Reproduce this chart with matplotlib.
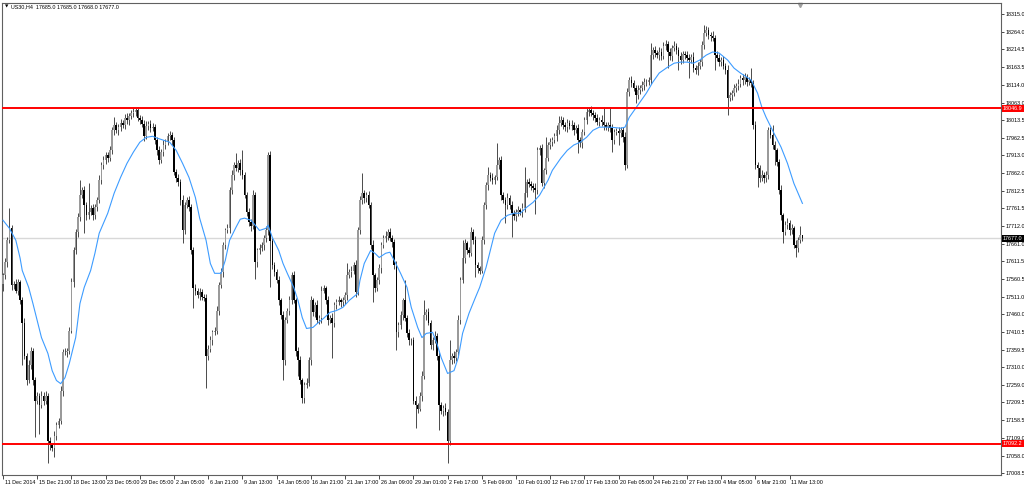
import matplotlib
matplotlib.use('Agg')
import matplotlib.pyplot as plt
import matplotlib.transforms as mtransforms

plt.rcParams['font.family'] = ['Liberation Sans', 'DejaVu Sans']

# ---------------- data ----------------
header = 'US30,H4  17685.0 17685.0 17668.0 17677.0'
first_open = 17548

closes = [
    17571,17608,17671,17705,17543,17548,17528,17551,17500,17437,17343,17272,17315,17357,17272,17215,
    17229,17201,17229,17215,17229,17101,17087,17081,17115,17144,17158,17243,17352,17352,17357,17414,
    17551,17642,17694,17736,17799,17813,17771,17742,17751,17762,17742,17765,17785,17842,17885,17899,
    17913,17905,17927,17984,17999,17984,17993,18004,17999,18019,18013,18024,18033,18036,18041,18019,
    18013,18002,17967,17996,18002,17990,17993,17956,17927,17899,17922,17942,17950,17967,17970,17956,
    17865,17848,17836,17785,17699,17771,17785,17765,17642,17534,17528,17514,17523,17511,17506,17343,
    17363,17386,17409,17414,17471,17543,17580,17657,17699,17705,17813,17856,17885,17876,17890,17870,
    17856,17799,17751,17722,17711,17799,17608,17642,17648,17657,17677,17699,17913,17668,17600,17580,
    17557,17500,17457,17329,17443,17471,17500,17571,17500,17357,17329,17272,17221,17258,17266,17329,
    17500,17466,17486,17443,17449,17528,17534,17500,17443,17449,17437,17486,17494,17500,17494,17500,
    17514,17571,17580,17585,17600,17523,17699,17785,17805,17791,17799,17771,17657,17571,17534,17557,
    17591,17657,17677,17682,17694,17677,17665,17600,17409,17429,17457,17500,17449,17406,17386,17386,
    17215,17201,17192,17229,17286,17457,17466,17437,17372,17386,17400,17343,17201,17186,17195,17181,
    17101,17329,17343,17335,17352,17443,17557,17620,17662,17642,17634,17694,17671,17600,17591,17585,
    17671,17771,17828,17856,17848,17842,17850,17885,17899,17799,17785,17771,17791,17771,17748,17739,
    17751,17756,17751,17762,17805,17836,17831,17825,17819,17813,17927,17933,17833,17870,17905,17942,
    17950,17956,17967,17984,18004,18013,17999,17993,18004,17996,17999,17984,17990,17956,17947,17979,
    18013,18036,18041,18033,18027,18019,18007,18013,18007,17999,17993,17999,17990,17956,17979,17982,
    17976,17984,17964,17885,18093,18127,18118,18104,18084,18098,18104,18113,18121,18121,18127,18198,
    18212,18204,18198,18207,18195,18224,18230,18207,18195,18218,18224,18212,18195,18184,18201,18198,
    18190,18184,18192,18161,18155,18167,18178,18227,18261,18269,18255,18252,18247,18198,18190,18178,
    18184,18167,18155,18076,18084,18090,18104,18110,18116,18133,18127,18135,18121,18127,18118,17999,
    17885,17876,17848,17856,17848,17856,17984,17970,17942,17927,17893,17813,17742,17694,17714,17719,
    17699,17705,17657,17648,17671,17685,17677,
]

upper_wick = [
    8,12,10,57,10,8,14,10,6,10,12,8,16,10,8,10,
    10,8,12,10,14,8,10,6,12,10,8,14,10,12,8,10,
    12,10,8,14,43,10,12,8,83,10,12,8,10,14,8,12,
    10,8,12,10,23,8,10,12,8,10,14,8,10,12,6,10,
    8,12,10,14,8,10,12,8,10,12,8,14,10,8,12,10,
    10,8,12,10,14,8,10,12,8,10,14,8,12,10,8,12,
    10,12,8,10,14,8,12,10,8,12,10,14,8,34,10,12,
    57,10,8,12,10,14,10,8,12,10,8,14,9,12,10,8,
    10,12,8,14,10,8,12,10,14,8,10,12,8,10,14,10,
    12,8,10,14,8,12,10,8,12,10,14,8,10,12,8,10,
    10,34,8,12,10,14,10,12,57,10,8,12,10,14,8,10,
    12,10,8,14,10,12,8,10,12,10,14,8,57,10,12,8,
    10,12,8,10,14,43,10,12,8,10,14,8,12,10,8,12,
    10,57,8,12,10,14,10,51,12,8,10,14,8,12,10,8,
    12,10,8,23,10,14,8,63,10,12,8,10,14,8,12,10,
    10,12,8,14,74,10,12,8,10,14,9,10,12,8,60,10,
    12,8,10,14,20,12,10,8,12,10,14,8,10,12,8,10,
    10,14,8,12,10,8,12,10,14,43,8,10,51,12,10,8,
    12,10,8,14,10,9,12,8,10,14,8,10,12,8,10,34,
    10,12,8,14,10,10,11,8,12,10,14,8,10,12,8,10,
    12,10,8,14,10,12,8,10,23,12,8,10,14,8,12,10,
    10,12,8,14,10,8,12,10,14,8,10,12,8,10,34,10,
    12,10,8,14,10,12,8,10,28,12,8,10,14,8,12,14,
    10,12,8,14,10,26,0,
]

lower_wick = [
    20,10,12,8,14,10,8,12,10,120,10,14,8,10,12,105,
    10,80,8,12,10,65,14,10,28,12,8,10,14,8,12,10,
    8,12,10,14,10,8,80,12,10,8,14,10,12,8,10,12,
    10,12,8,10,14,8,12,10,8,12,10,14,8,10,12,8,
    12,10,14,8,10,12,8,10,14,12,8,10,12,8,10,14,
    8,12,10,14,37,10,8,12,10,57,14,8,12,10,8,91,
    12,10,14,8,10,12,8,14,10,8,12,10,14,8,10,12,
    10,8,12,10,14,8,46,12,10,8,14,10,12,130,10,12,
    8,12,10,57,14,8,12,10,8,14,43,10,14,12,8,10,
    12,10,14,8,10,12,8,10,14,8,100,12,10,8,12,10,
    10,12,8,14,10,12,8,10,12,14,10,8,12,77,10,8,
    10,14,8,12,10,8,12,10,51,14,10,12,8,10,14,12,
    10,63,12,8,14,10,12,8,10,14,8,12,71,10,14,8,
    65,12,10,14,8,12,10,8,14,10,12,8,10,34,12,10,
    8,12,10,14,8,10,12,8,10,14,8,51,10,12,68,10,
    12,10,8,14,10,12,8,10,12,66,10,14,8,12,10,8,
    10,12,8,14,10,8,12,10,14,8,10,12,8,37,10,12,
    8,10,12,8,14,10,8,12,10,14,8,10,12,34,10,8,
    34,10,12,14,8,10,12,8,23,10,12,8,14,10,8,12,
    10,12,8,14,10,8,12,46,10,14,8,12,40,10,8,12,
    10,51,8,12,10,14,8,10,12,8,10,14,8,43,10,12,
    10,8,12,48,10,14,8,12,10,8,14,10,12,8,10,12,
    10,54,12,8,14,10,12,8,10,43,12,10,14,31,8,10,
    12,10,8,26,10,8,9,
]

# moving average line (bar index, price)
ma_bar = [0,3,6,8,9,12,14,16,18,21,23,25,27,29,31,34,36,38,41,43,45,49,52,55,58,61,64,67,70,72,
          75,78,81,84,87,90,92,95,97,99,102,104,106,109,111,113,116,118,120,123,124,126,129,131,133,
          136,138,140,142,145,147,150,153,156,159,162,166,167,169,172,174,176,179,181,183,186,189,191,
          194,196,198,201,203,205,208,211,213,215,218,221,223,226,228,230,233,236,239,242,245,248,251,
          255,257,261,264,267,270,273,276,279,284,289,291,293,296,298,301,304,307,311,314,317,320,323,
          326,329,332,335,339,342,345,348,350,353,355,357,360,364,367,370,374]
ma_val = [17728,17705,17671,17620,17585,17537,17491,17443,17394,17349,17300,17272,17263,17280,17320,
          17394,17491,17537,17585,17634,17691,17748,17805,17850,17890,17922,17950,17964,17967,17962,
          17956,17950,17927,17890,17850,17793,17734,17671,17605,17577,17577,17614,17671,17708,17731,
          17734,17728,17714,17699,17705,17714,17679,17642,17605,17577,17537,17500,17451,17420,17423,
          17434,17449,17466,17471,17480,17500,17520,17557,17605,17642,17634,17622,17634,17637,17614,
          17577,17537,17480,17423,17394,17406,17409,17377,17337,17292,17300,17337,17406,17463,17508,
          17537,17594,17642,17691,17728,17742,17748,17748,17765,17779,17799,17842,17870,17905,17927,
          17942,17950,17964,17984,17993,17993,17990,17993,18021,18047,18064,18090,18121,18147,18164,
          18175,18178,18178,18175,18184,18198,18207,18204,18184,18161,18147,18135,18127,18090,18050,
          18021,17984,17936,17890,17833,17776]

tick_bars = [0,16,32,48,64,80,96,112,128,144,160,176,192,208,224,240,256,272,288,304,320,336,352,368]
tick_labels = ['11 Dec 2014','15 Dec 21:00','18 Dec 13:00','23 Dec 05:00','29 Dec 05:00','2 Jan 05:00',
               '6 Jan 21:00','9 Jan 13:00','14 Jan 05:00','16 Jan 21:00','21 Jan 17:00','26 Jan 09:00',
               '29 Jan 01:00','2 Feb 17:00','5 Feb 09:00','10 Feb 01:00','12 Feb 17:00','17 Feb 13:00',
               '20 Feb 05:00','24 Feb 21:00','27 Feb 13:00','4 Mar 05:00','6 Mar 21:00','11 Mar 13:00']

price_ticks = [18315.0,18264.0,18214.5,18163.5,18114.0,18063.0,18013.5,17962.5,17913.0,17862.0,
               17812.5,17761.5,17712.0,17661.0,17611.5,17560.5,17511.0,17460.0,17410.5,17359.5,
               17310.0,17259.0,17209.5,17158.5,17109.0,17058.0,17008.5]

levels = [18046.9, 17092.2]
bid = 17677.0

# ---------------- drawing ----------------
W, H = 1024, 486
FS = 3.9
fig = plt.figure(figsize=(W / 100, H / 100), dpi=100)
fig.patch.set_facecolor('white')
ax = fig.add_axes([2 / W, 11 / H, 999 / W, 472 / H])
ax.set_facecolor('white')

n = len(closes)
opens = [first_open] + closes[:-1]
xs = list(range(n))
highs, lows = [], []
for i in range(n):
    uw = upper_wick[i] if i < len(upper_wick) else 10
    lw = lower_wick[i] if i < len(lower_wick) else 10
    highs.append(max(opens[i], closes[i]) + uw)
    lows.append(min(opens[i], closes[i]) - lw)

ax.vlines(xs, lows, highs, color='#1a1a1a', linewidth=0.55, zorder=2)
bottoms = [min(o, c) for o, c in zip(opens, closes)]
heights = [max(abs(c - o), 1.5) for o, c in zip(opens, closes)]
colors = ['#9a9a9a' if c >= o else '#000000' for o, c in zip(opens, closes)]
ax.bar(xs, heights, bottom=bottoms, width=0.75, color=colors, linewidth=0, zorder=3)

ax.plot(ma_bar, ma_val, color='#3d9cff', linewidth=0.8, zorder=4)

for lv in levels:
    ax.axhline(lv, color='#ff0000', linewidth=1.4, zorder=5)
ax.axhline(bid, color='#d8d8d8', linewidth=1.0, zorder=1)

ax.set_xlim(-0.47, 466.9)
ax.set_ylim(17003.0, 18346.3)

for s in ax.spines.values():
    s.set_color('#606060')
    s.set_linewidth(0.8)

ax.yaxis.tick_right()
ax.set_yticks(price_ticks)
ax.set_yticklabels([f'{v:.1f}' for v in price_ticks])
ax.tick_params(axis='y', length=2, width=0.5, pad=1.2, labelsize=FS, colors='#000000')
ax.set_xticks(tick_bars)
ax.set_xticklabels(tick_labels, ha='left')
ax.tick_params(axis='x', length=3, width=0.5, pad=0.8, labelsize=FS, colors='#000000')
for lab in ax.get_xticklabels():
    lab.set_transform(lab.get_transform() + mtransforms.ScaledTranslation(1.5 / 100, 0, fig.dpi_scale_trans))

trans = mtransforms.blended_transform_factory(ax.transAxes, ax.transData)
for lv in levels:
    ax.text(1.002, lv, f'{lv:.1f}', transform=trans, ha='left', va='center', fontsize=FS,
            color='white', zorder=10, clip_on=False,
            bbox=dict(boxstyle='square,pad=0.2', facecolor='#ff0000', edgecolor='none'))
ax.text(1.002, bid, f'{bid:.1f}', transform=trans, ha='left', va='center', fontsize=FS,
        color='white', zorder=10, clip_on=False,
        bbox=dict(boxstyle='square,pad=0.2', facecolor='#000000', edgecolor='none'))

# chart-shift marker at the top
ax.plot([372.9], [0.995], marker='v', markersize=3, color='#a0a0a0',
        transform=mtransforms.blended_transform_factory(ax.transData, ax.transAxes), clip_on=False)

fig.text(5 / W, 1 - 7 / H, '\u25bc', fontsize=3.2, ha='left', va='center', color='black',
         family='DejaVu Sans')
fig.text(11 / W, 1 - 7 / H, header, fontsize=FS, ha='left', va='center', color='black')

fig.savefig('out.png', dpi=100, facecolor='white')
